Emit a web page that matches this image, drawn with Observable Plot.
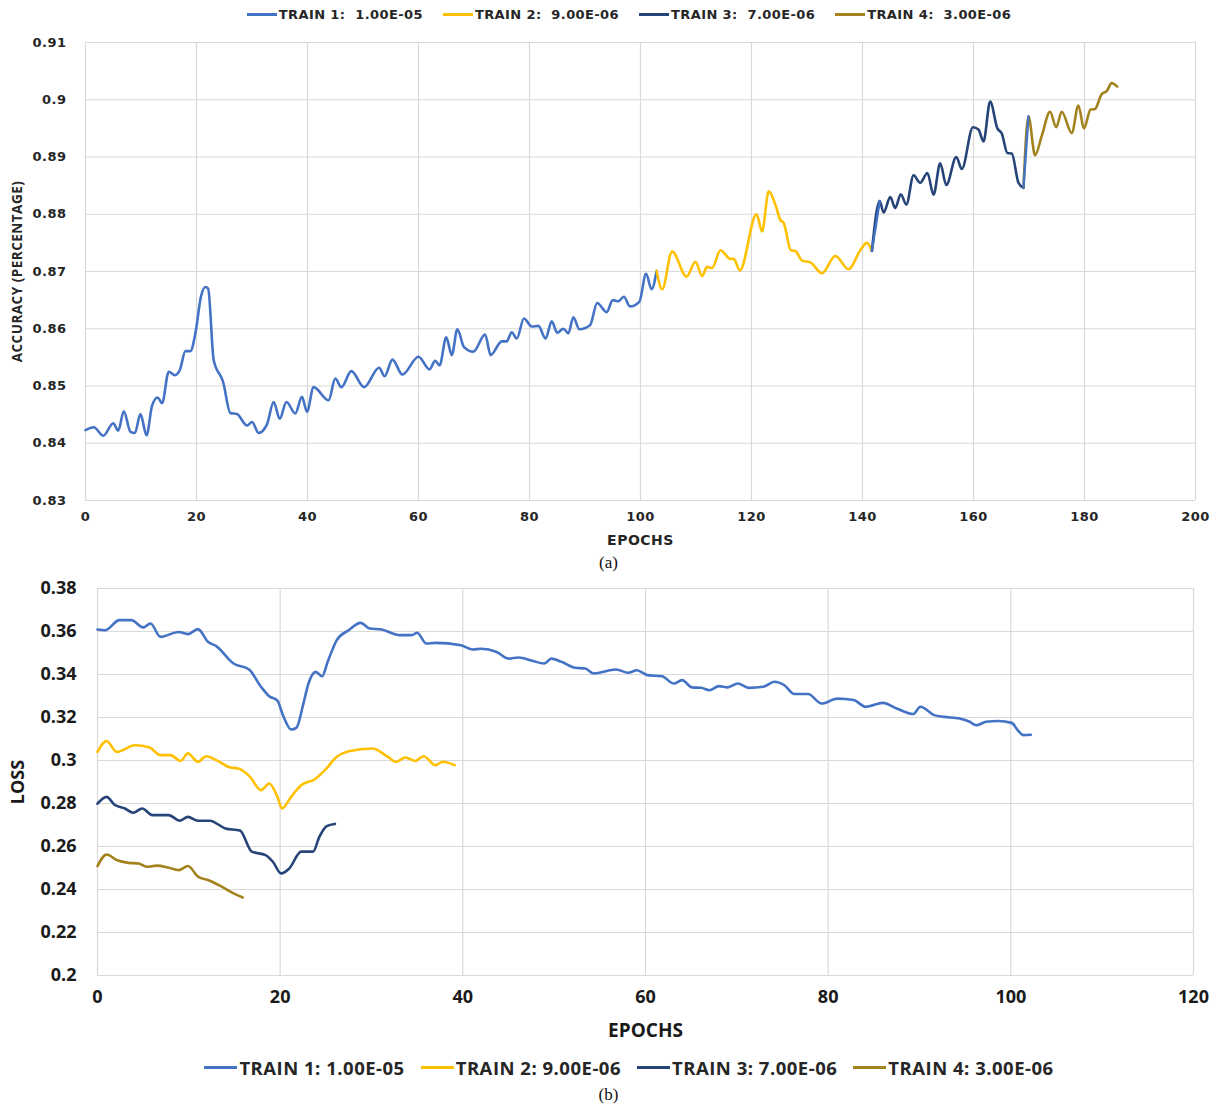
<!DOCTYPE html>
<html>
<head>
<meta charset="utf-8">
<script src="https://cdn.jsdelivr.net/npm/d3@7"></script>
<script src="https://cdn.jsdelivr.net/npm/@observablehq/plot@0.6"></script>
<style>
  body { margin: 0; background: #fff; }
  #root { position: relative; width: 1217px; height: 1106px; overflow: hidden; background: #fff; }
  .legend { position: absolute; left: 0; width: 1258px; display: flex; justify-content: center; align-items: center; white-space: pre; color: #262626; }
  .legend .item { display: flex; align-items: center; }
  .legend .sw { display: inline-block; height: 3px; }
  .legA { top: 7px; font-family: "DejaVu Sans"; font-weight: bold; font-size: 13px; letter-spacing: 0.4px; }
  .legB { top: 1055px; font-family: "Open Sans"; font-weight: bold; font-size: 18.5px; letter-spacing: 0.5px; }
  .cap { position: absolute; width: 1217px; left: 0; text-align: center; font-family: "Liberation Serif"; font-size: 17px; color: #111; }
  .chart { position: absolute; left: 0; overflow: visible; }
</style>
</head>
<body>
<div id="root"></div>
<script>
// ---------- data ----------
const seriesNamesA = ["TRAIN 1:  1.00E-05", "TRAIN 2:  9.00E-06", "TRAIN 3:  7.00E-06", "TRAIN 4:  3.00E-06"];
const seriesNamesB = ["TRAIN 1: 1.00E-05", "TRAIN 2: 9.00E-06", "TRAIN 3: 7.00E-06", "TRAIN 4: 3.00E-06"];
const seriesColors = ["#4472C4", "#FFC000", "#264478", "#A3821E"];

// Accuracy (a): [epoch, accuracy]
const acc1 = [[0,0.8423],[1.5,0.8428],[3.2,0.8413],[5,0.8435],[5.9,0.8422],[6.9,0.8456],[8.1,0.842],[8.9,0.8418],[9.9,0.8451],[11,0.8414],[12,0.8466],[13,0.848],[13.8,0.847],[15,0.8525],[16.1,0.8519],[17,0.8528],[18,0.8561],[18.9,0.8561],[19.8,0.8592],[20.8,0.8656],[21.6,0.8673],[22.1,0.867],[23.1,0.8545],[24.8,0.8507],[26.1,0.8453],[27.3,0.8451],[29.1,0.8431],[30,0.8437],[31.2,0.8418],[32.7,0.8433],[33.9,0.8472],[35,0.8443],[36.2,0.8472],[37.8,0.8452],[39,0.8481],[39.9,0.8455],[41.1,0.8498],[43.8,0.8475],[45,0.8513],[46.1,0.8498],[47.9,0.8526],[50.2,0.8498],[52.9,0.8532],[53.9,0.8517],[55.3,0.8546],[57.1,0.852],[60,0.8551],[62,0.8529],[63,0.8544],[63.8,0.8536],[65,0.8585],[66,0.8554],[67,0.8599],[68.2,0.8568],[69.9,0.856],[72,0.859],[73,0.8554],[75,0.8578],[75.9,0.8578],[76.8,0.8594],[77.7,0.8583],[79,0.8618],[80.4,0.8604],[81.6,0.8605],[82.9,0.8583],[84,0.8613],[85,0.8593],[86.1,0.86],[87,0.8592],[87.9,0.862],[89,0.8599],[90.9,0.8606],[92.2,0.8645],[93.9,0.8629],[95,0.865],[96,0.8648],[97,0.8656],[98.1,0.8639],[99.8,0.8647],[101,0.8696],[102,0.8669],[102.9,0.8701]];
const acc2 = [[102.9,0.8701],[103.9,0.8669],[105.7,0.8735],[108.3,0.8691],[109.9,0.8717],[111.1,0.8692],[112,0.8708],[112.9,0.8706],[114.4,0.8737],[116.2,0.8722],[116.8,0.8722],[117.9,0.8702],[120.9,0.88],[121.9,0.877],[123.1,0.884],[124.3,0.8817],[125.2,0.879],[125.8,0.8785],[127.1,0.8737],[127.9,0.8736],[129.1,0.8719],[130.6,0.8716],[132.7,0.8697],[135.1,0.8727],[137.5,0.8704],[139.6,0.8737],[140.8,0.875],[141.7,0.8736]];
const acc3 = [[141.7,0.8736],[143.1,0.8823],[143.8,0.8803],[145,0.883],[145.9,0.8811],[146.9,0.8835],[147.9,0.8817],[149.2,0.8868],[150.4,0.8855],[151.7,0.8872],[152.8,0.8834],[154,0.8889],[155.1,0.8851],[156.9,0.89],[157.9,0.8879],[159.9,0.8952],[160.9,0.8948],[161.8,0.8927],[163,0.8997],[164.3,0.895],[165.1,0.8941],[166.1,0.8907],[166.9,0.8906],[168.1,0.8855],[169,0.8846]];
const acc4 = [[169,0.8846],[169.9,0.8971],[171.1,0.8903],[172.3,0.8937],[173.8,0.8979],[174.9,0.8952],[175.9,0.8979],[177.7,0.8942],[178.9,0.899],[179.9,0.895],[181.1,0.8983],[181.9,0.8984],[183.1,0.901],[184,0.9015],[184.9,0.9029],[185.9,0.9023]];
// epoch ranges where the series hand-over is drawn in the TRAIN 1 colour
const accBridges = [[2, 141.7, 143.1], [3, 169, 169.9]];

// Loss (b): [epoch, loss]
const loss1 = [[0,0.3609],[0.85,0.3606],[2.4,0.3653],[3.7,0.3653],[5,0.3619],[5.8,0.3637],[6.9,0.3575],[8.9,0.3598],[9.9,0.3588],[11,0.3611],[12.1,0.3552],[13,0.3532],[14.9,0.3451],[16.6,0.3423],[17.9,0.3343],[18.8,0.3299],[19.7,0.3278],[20.3,0.3211],[21.2,0.3144],[21.8,0.3153],[22.5,0.3257],[23.1,0.3358],[23.9,0.3412],[24.6,0.3392],[25.2,0.3459],[26.2,0.356],[27.5,0.3606],[28.8,0.364],[29.8,0.3614],[31.1,0.3609],[33.1,0.3583],[34.4,0.3583],[35,0.3594],[36,0.3544],[37,0.3547],[39.8,0.3536],[41.1,0.3516],[42,0.352],[43.7,0.3505],[45,0.3474],[46.1,0.3479],[47.6,0.3464],[48.9,0.3451],[49.7,0.3474],[50.8,0.3459],[52.3,0.3431],[53.4,0.3428],[54.3,0.3405],[56.8,0.3423],[58.1,0.3408],[59.05,0.342],[60.2,0.3397],[61.8,0.3392],[63.1,0.3358],[64,0.3374],[65.1,0.334],[66.1,0.3338],[67,0.3327],[68.05,0.3346],[69,0.334],[70.1,0.3358],[71.3,0.3338],[72.9,0.3343],[74.1,0.3366],[75.2,0.335],[76.3,0.3309],[77.8,0.3309],[79.3,0.3265],[81,0.3288],[82.8,0.3281],[84.1,0.325],[86,0.3268],[87.5,0.3242],[89.3,0.3216],[90.1,0.325],[91.6,0.3211],[92.7,0.3203],[94.4,0.3195],[95.5,0.318],[96.2,0.3164],[97.3,0.318],[98.6,0.3184],[100.1,0.3175],[100.7,0.3144],[101.4,0.3118],[102.2,0.312]];
const loss2 = [[0,0.304],[1,0.3091],[2.1,0.304],[4.1,0.3071],[5.7,0.306],[6.9,0.3025],[8,0.3025],[9.1,0.2998],[9.9,0.3033],[11,0.2994],[11.9,0.302],[13,0.3002],[14.3,0.2971],[15.6,0.296],[16.7,0.2924],[17.9,0.2862],[18.8,0.2893],[19.7,0.2831],[20.2,0.2777],[21.2,0.2831],[22.3,0.2885],[23.8,0.2913],[24.9,0.2955],[26.2,0.3017],[27.5,0.3043],[30.1,0.3056],[31.8,0.3017],[32.7,0.2994],[33.7,0.3014],[34.8,0.2998],[35.7,0.302],[37,0.2978],[37.8,0.2994],[39.1,0.2978]];
const loss3 = [[0,0.2799],[1,0.2831],[1.9,0.2793],[3,0.2777],[3.9,0.2757],[4.9,0.2777],[6,0.2746],[7.8,0.2746],[9,0.272],[9.9,0.2738],[11,0.272],[12.3,0.272],[14,0.2684],[15.6,0.2674],[16.9,0.2576],[18.4,0.256],[19.2,0.2529],[20.1,0.2475],[21,0.2498],[22.3,0.2576],[23.6,0.2576],[24.3,0.2646],[25.1,0.2695],[26,0.2705]];
const loss4 = [[0,0.2509],[1,0.2563],[2.1,0.2537],[3.4,0.2524],[4.5,0.2521],[5.4,0.2506],[6.5,0.2511],[7.8,0.2501],[8.9,0.249],[9.9,0.2509],[11,0.246],[12.3,0.2441],[13.6,0.2413],[14.9,0.2382],[15.9,0.2363]];

const accXTicks = [0, 20, 40, 60, 80, 100, 120, 140, 160, 180, 200];
const accYTicks = [0.83, 0.84, 0.85, 0.86, 0.87, 0.88, 0.89, 0.9, 0.91];
const lossXTicks = [0, 20, 40, 60, 80, 100, 120];
const lossYTicks = [0.2, 0.22, 0.24, 0.26, 0.28, 0.3, 0.32, 0.34, 0.36, 0.38];

// ---------- build ----------
const root = document.getElementById("root");
const fmt = d => String(+d.toFixed(2));

function toRows(seriesList, names) {
  const rows = [];
  seriesList.forEach((s, i) => s.forEach(([e, v]) => rows.push({epoch: e, value: v, series: names[i]})));
  return rows;
}

function legend(cls, names, swW, gap) {
  const div = document.createElement("div");
  div.className = "legend " + cls;
  names.forEach((n, i) => {
    const it = document.createElement("span");
    it.className = "item";
    it.style.marginRight = i < names.length - 1 ? gap + "px" : "0";
    const sw = document.createElement("span");
    sw.className = "sw";
    sw.style.width = swW + "px";
    sw.style.background = seriesColors[i];
    sw.style.marginRight = "2px";
    const tx = document.createElement("span");
    tx.textContent = n;
    it.append(sw, tx);
    div.append(it);
  });
  root.append(div);
}

// Chart (a)
const accRows = toRows([acc1, acc2, acc3, acc4], seriesNamesA);
const accSeriesArr = [acc1, acc2, acc3, acc4];
const bridgeRows = [];
accBridges.forEach(([si, a, b], k) => accSeriesArr[si].filter(([e]) => e >= a && e <= b)
  .forEach(([e, v]) => bridgeRows.push({epoch: e, value: v, bridge: k})));

const chartA = Plot.plot({
  width: 1217, height: 522,
  marginTop: 14, marginLeft: 85, marginRight: 22, marginBottom: 50,
  x: {domain: [0, 200], ticks: accXTicks, tickSize: 0, tickPadding: 11, label: null},
  y: {domain: [0.83, 0.91], ticks: accYTicks, tickFormat: fmt, tickSize: 0, tickPadding: 19, label: null},
  color: {domain: seriesNamesA, range: seriesColors},
  style: {fontFamily: "DejaVu Sans", fontSize: "13px", fontWeight: "bold", color: "#262626", background: "transparent", letterSpacing: "0.5px", overflow: "visible"},
  marks: [
    Plot.gridX(accXTicks, {stroke: "#d9d9d9", strokeOpacity: 1, strokeWidth: 1.2}),
    Plot.gridY(accYTicks, {stroke: "#d9d9d9", strokeOpacity: 1, strokeWidth: 1.2}),
    Plot.line(accRows, {x: "epoch", y: "value", z: "series", stroke: "series", strokeWidth: 2.6, curve: "monotone-x"}),
    Plot.line(bridgeRows, {x: "epoch", y: "value", z: "bridge", stroke: seriesColors[0], strokeWidth: 2.4}),
    Plot.text(["EPOCHS"], {frameAnchor: "bottom", dy: 40, lineAnchor: "middle", fontSize: 14, fontWeight: "bold"}),
    Plot.text(["ACCURACY (PERCENTAGE)"], {frameAnchor: "left", dx: -68, rotate: -90, textAnchor: "middle", lineAnchor: "middle", fontSize: 13.5, fontFamily: "Open Sans", fontWeight: "bold", letterSpacing: "0.2px"})
  ]
});
chartA.classList.add("chart");
chartA.style.top = "28px";
root.append(chartA);

legend("legA", seriesNamesA, 30, 20);

const capA = document.createElement("div");
capA.className = "cap"; capA.style.top = "553px"; capA.textContent = "(a)";
root.append(capA);

// Chart (b)
const lossRows = toRows([loss1, loss2, loss3, loss4], seriesNamesB);
const chartB = Plot.plot({
  width: 1217, height: 480,
  marginTop: 13, marginLeft: 97, marginRight: 24, marginBottom: 80,
  x: {domain: [0, 120], ticks: lossXTicks, tickSize: 0, tickPadding: 15, label: null},
  y: {domain: [0.2, 0.38], ticks: lossYTicks, tickFormat: fmt, tickSize: 0, tickPadding: 21, label: null},
  color: {domain: seriesNamesB, range: seriesColors},
  style: {fontFamily: "Open Sans", fontSize: "18px", fontWeight: "bold", color: "#1a1a1a", background: "transparent", overflow: "visible"},
  marks: [
    Plot.gridX(lossXTicks, {stroke: "#d9d9d9", strokeOpacity: 1, strokeWidth: 1.2}),
    Plot.gridY(lossYTicks, {stroke: "#d9d9d9", strokeOpacity: 1, strokeWidth: 1.2}),
    Plot.line(lossRows, {x: "epoch", y: "value", z: "series", stroke: "series", strokeWidth: 2.6, curve: "monotone-x"}),
    Plot.text(["EPOCHS"], {frameAnchor: "bottom", dy: 55, lineAnchor: "middle", fontSize: 19, fontWeight: "bold"}),
    Plot.text(["LOSS"], {frameAnchor: "left", dx: -79, rotate: -90, textAnchor: "middle", lineAnchor: "middle", fontSize: 18, fontWeight: "bold"})
  ]
});
chartB.classList.add("chart");
chartB.style.top = "575px";
root.append(chartB);

legend("legB", seriesNamesB, 33, 16);

const capB = document.createElement("div");
capB.className = "cap"; capB.style.top = "1085px"; capB.textContent = "(b)";
root.append(capB);
</script>
</body>
</html>
